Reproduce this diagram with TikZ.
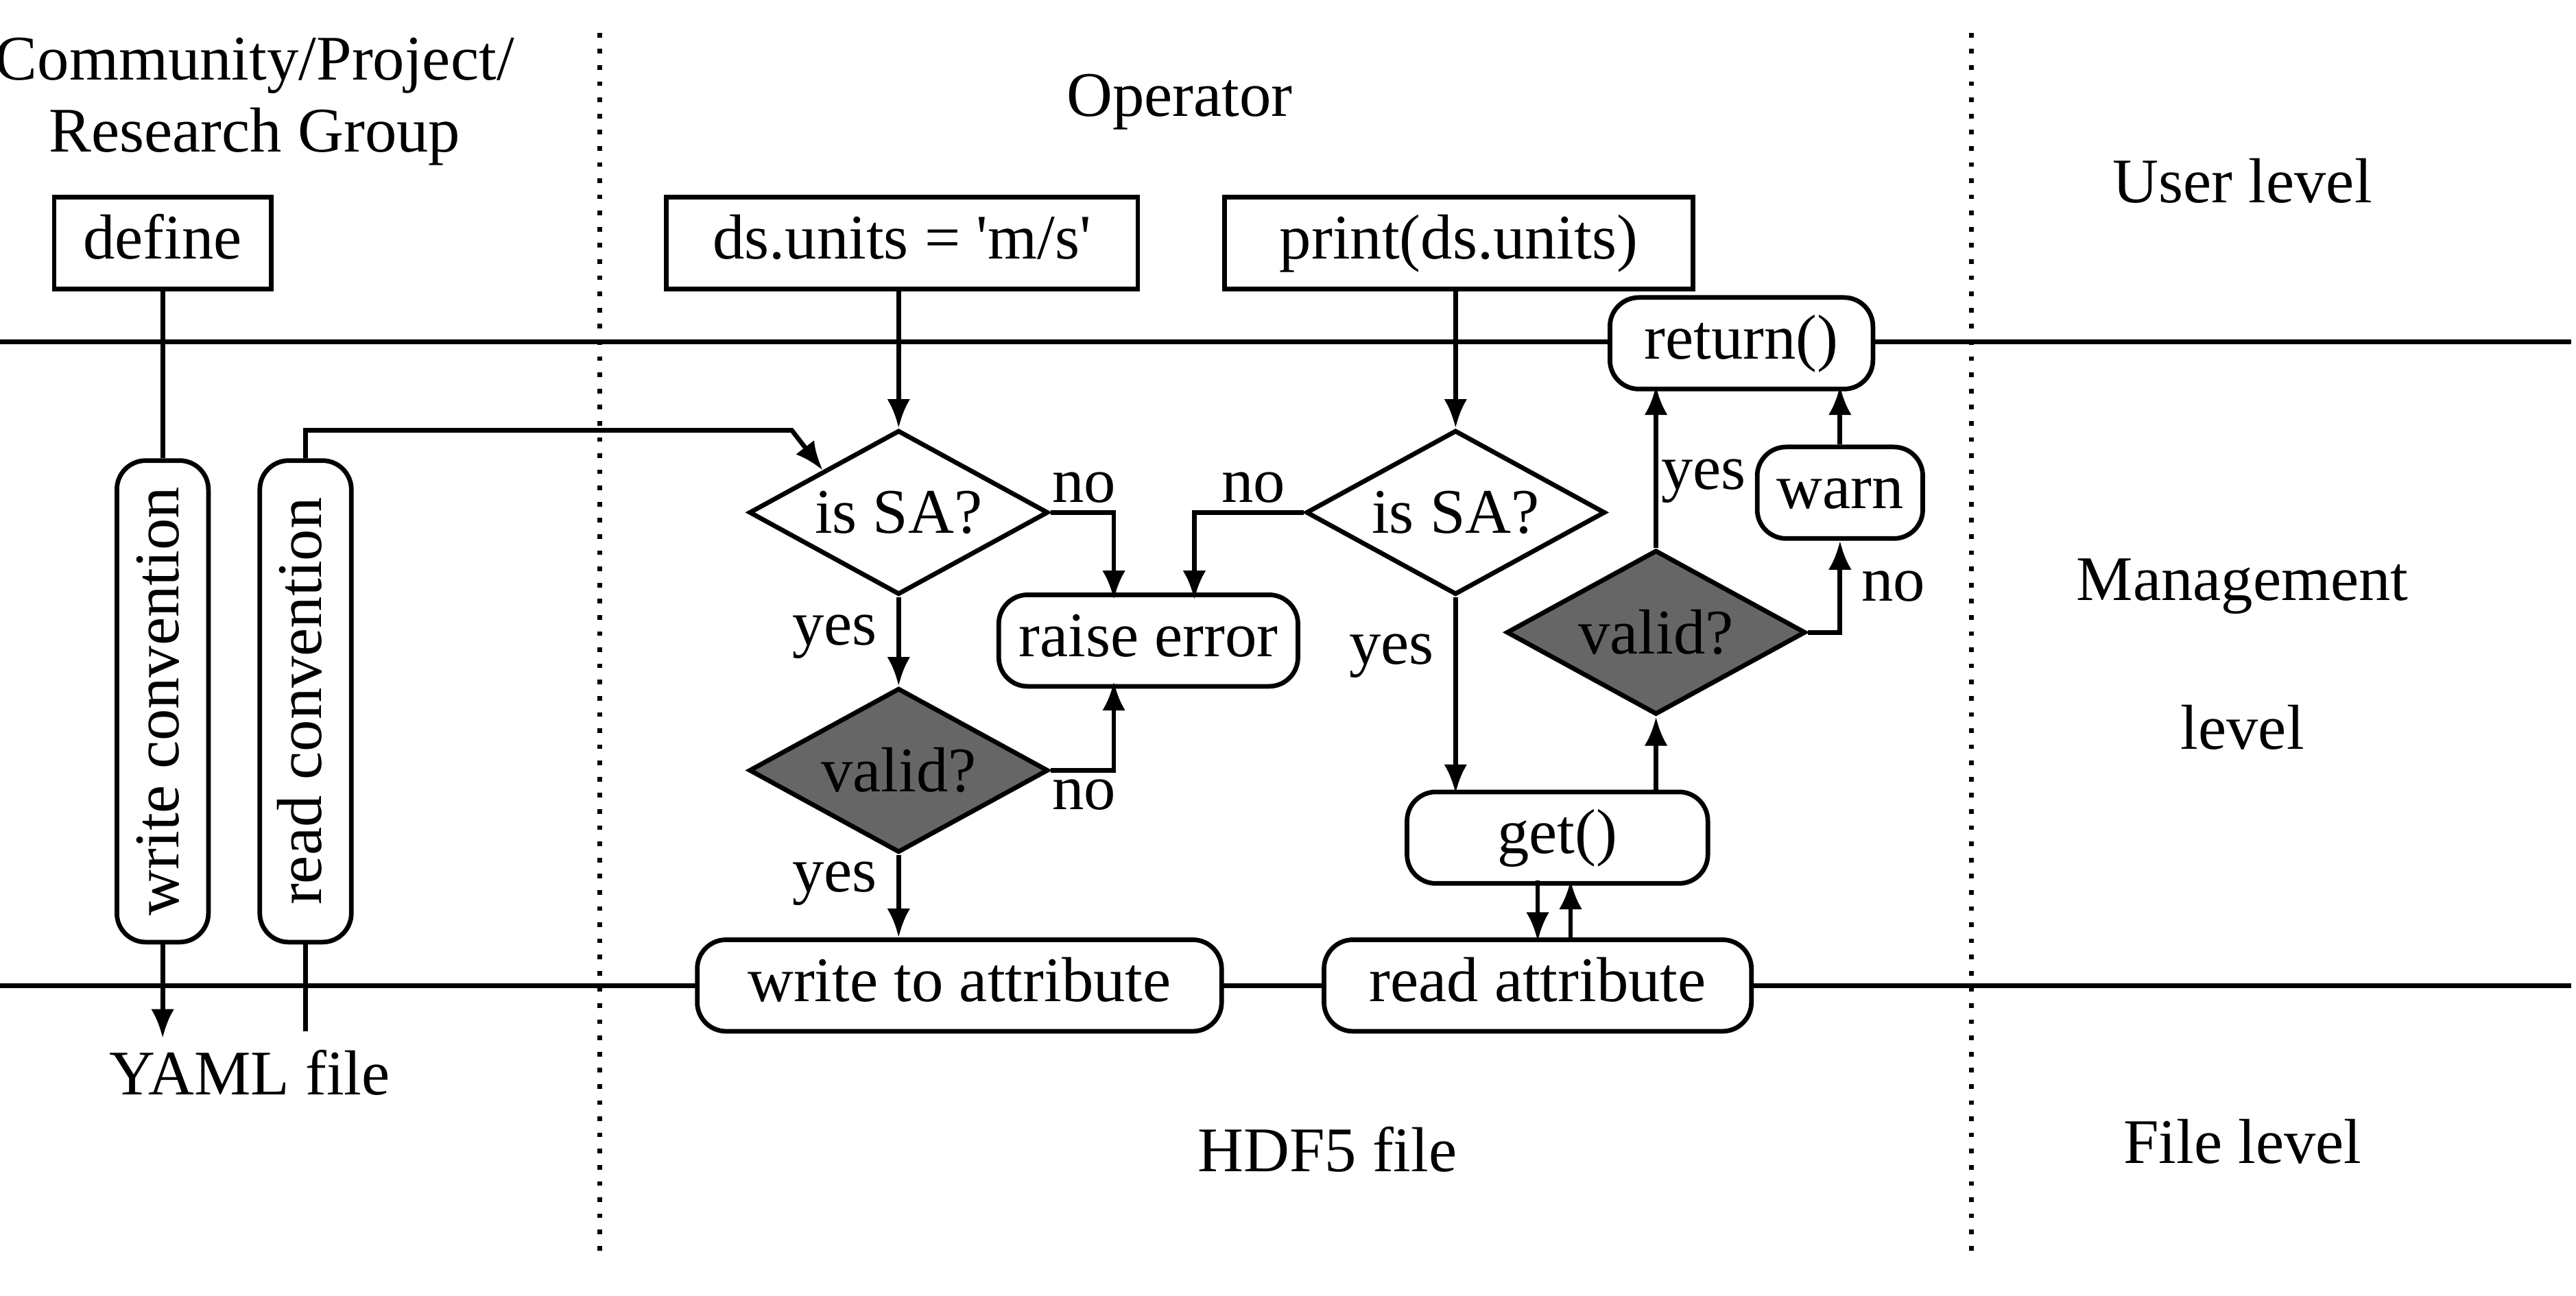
\documentclass[tikz,border=0pt]{standalone}
\usepackage{fontspec}
\setmainfont{Liberation Serif}
\usetikzlibrary{arrows.meta,shapes.geometric}
\begin{document}
\begin{tikzpicture}[
    x=0.01cm, y=-0.01cm,
    font=\fontsize{11}{12.5}\selectfont,
    plain/.style={rectangle, draw, fill=white, thick, minimum height=0.56cm, text height=1.6ex, text depth=0.4ex, inner xsep=4pt},
    rbox/.style={rectangle, draw, fill=white, thick, rounded corners=5pt, minimum height=0.52cm, text height=1.6ex, text depth=0.4ex},
    check/.style={diamond, draw, fill=white, thick, aspect=1.82, minimum width=1.82cm, minimum height=1cm, inner sep=0pt},
    checkdark/.style={check, fill=black!60},
    arrow/.style={-{Latex[length=5pt,width=4pt]}, thick},
    line/.style={thick},
    sep/.style={thick, dotted}
]
    \useasboundingbox (0,0) rectangle (1568,789);
    % Lanes
    \draw[sep] (365,20) -- (365,762);
    \draw[sep] (1200,20) -- (1200,762);
    \draw[line] (0,208) -- (1565,208);
    \draw[line] (0,600) -- (1565,600);
    % Lane labels
    \node[align=center, inner sep=0pt] (group) at (155,62) {Community/Project/\\Research Group};
    \node (operator) at (718,62) {Operator};
    \node (userlvl) at (1365,110) {User level};
    \node (mgmtlvl) at (1365,357) {Management};
    \node (mgmtlvl2) at (1365,443) {level};
    \node (filelvl) at (1365,695) {File level};
    \node (hdf) at (808,700) {HDF5 file};
    \node (yaml) at (152,653) {YAML file};
    % Convention
    \node[plain, minimum width=1.32cm] (define) at (99,148) {define};
    \node[rbox, rotate=90, minimum width=2.93cm] (writeconv) at (99,427) {write convention};
    \node[rbox, rotate=90, minimum width=2.93cm] (readconv) at (186,427) {read convention};
    % Writing
    \node[plain, minimum width=2.87cm] (setunits) at (549,148) {ds.units = \textquotesingle m/s\textquotesingle};
    \node[check] (issa1) at (547,312) {is SA?};
    \node[checkdark] (valid1) at (547,469) {valid?};
    \node[rbox, minimum width=1.82cm] (raise) at (699,390) {raise error};
    \node[rbox, minimum width=3.19cm] (writeattr) at (584,600) {write to attribute};
    % Reading
    \node[plain, minimum width=2.85cm] (printunits) at (888,148) {print(ds.units)};
    \node[check] (issa2) at (886,312) {is SA?};
    \node[rbox, minimum width=1.83cm] (get) at (948,510) {get()};
    \node[checkdark] (valid2) at (1008,385) {valid?};
    \node[rbox, minimum width=0.99cm] (warn) at (1120,300) {warn};
    \node[rbox, minimum width=1.6cm] (return) at (1060,209) {return()};
    \node[rbox, minimum width=2.6cm] (readattr) at (936,600) {read attribute};
    % Convention arrows
    \draw[line] (define.south) -- (writeconv.east);
    \draw[arrow] (writeconv.west) -- (99,632);
    \draw[line] (readconv.west) -- (186,628);
    \draw[arrow] (readconv.east) -- (186,262) -- (482,262) -- (issa1.north west);
    % Writing arrows
    \draw[arrow] (issa1.north |- setunits.south) -- (issa1.north);
    \draw[arrow] (issa1.east) -- (678,312) -- (678,365);
    \node (no1) at (660,297) {no};
    \draw[arrow] (issa1.south) -- node[left, pos=0.45] {yes} (valid1.north);
    \draw[arrow] (valid1.east) -- (678,469) -- (678,415);
    \node (no2) at (660,484) {no};
    \draw[arrow] (valid1.south) -- node[left, pos=0.35] {yes} (writeattr.north -| valid1.south);
    % Reading arrows
    \draw[arrow] (issa2.north |- printunits.south) -- (issa2.north);
    \draw[arrow] (issa2.west) -- (727,312) -- (727,365);
    \node (no3) at (763,297) {no};
    \draw[arrow] (issa2.south) -- node[left, pos=0.3] {yes} (886,483);
    \draw[arrow] (1008,483) -- (valid2.south);
    \draw[arrow] (valid2.north) -- (1008,235);
    \node (yes4) at (1037,293) {yes};
    \draw[arrow] (valid2.east) -- (1120,385) -- node[right, pos=0.5] {no} (warn.south);
    \draw[arrow] (warn.north) -- (1120,235);
    \draw[arrow] (936,536) -- (936,573);
    \draw[arrow] (956,573) -- (956,536);
\end{tikzpicture}
\end{document}
